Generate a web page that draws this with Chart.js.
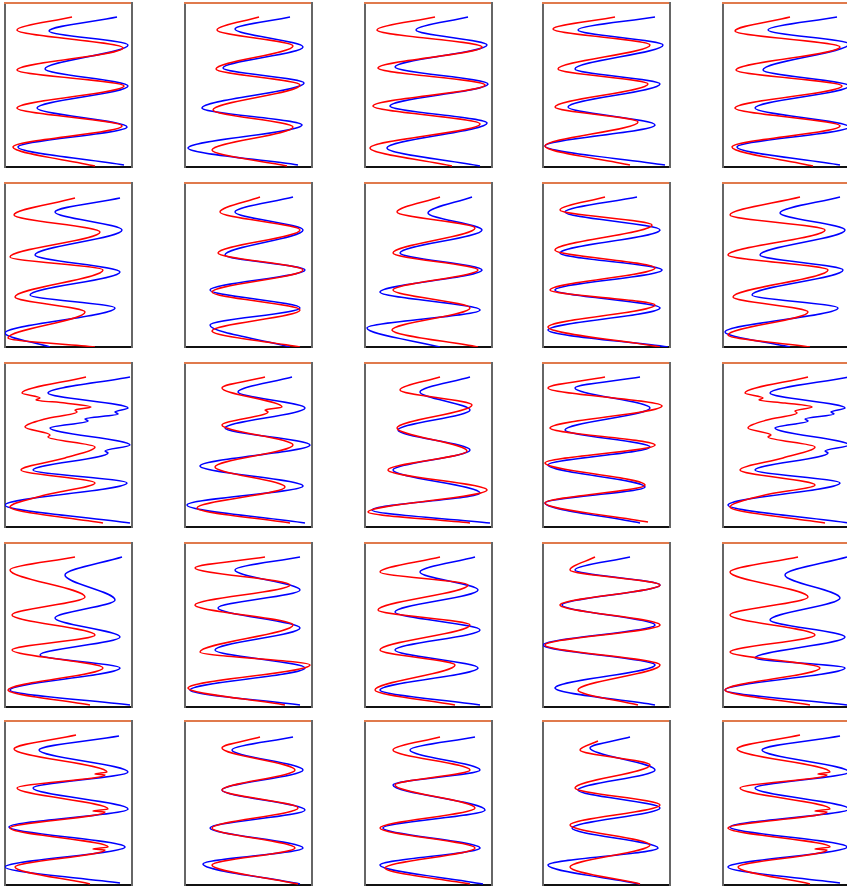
<!DOCTYPE html>
<html>
<head>
<meta charset="utf-8">
<title>Traces</title>
<script src="https://cdn.jsdelivr.net/npm/chart.js@4.4.1/dist/chart.umd.min.js"></script>
<style>
  html, body { margin: 0; padding: 0; background: #fff; overflow: hidden; }
  #grid { position: relative; width: 847px; height: 891px; }
  .panel { position: absolute; }
</style>
</head>
<body>
<div id="grid"></div>
<script>
// [amplitude, depth] pairs per panel, row by row (depth grows downward)
const redTraces = [
  [[67,14],[12,27],[118,45],[12,67],[119,83],[12,105],[117,123],[8,144],[90,163]],
  [[74,14],[32,27],[108,43],[31,66],[115,82],[28,107],[108,124],[27,147],[102,163]],
  [[70,14],[12,27],[117,44],[13,65],[120,82],[8,103],[115,121],[5,145],[87,163]],
  [[72,14],[10,26],[107,42],[15,66],[105,81],[12,104],[95,119],[2,143],[87,162]],
  [[67,14],[12,28],[117,44],[13,67],[119,83],[12,105],[117,123],[9,144],[90,163]],

  [[70,15],[9,32],[95,49],[5,74],[98,87],[10,114],[80,129],[3,155],[90,164]],
  [[75,14],[35,29],[115,47],[33,70],[118,87],[27,109],[115,127],[27,148],[115,164]],
  [[75,14],[32,29],[110,45],[28,70],[113,87],[28,107],[105,125],[27,147],[113,164]],
  [[62,14],[17,27],[109,42],[12,67],[112,85],[7,107],[112,122],[5,144],[117,164]],
  [[77,14],[7,32],[102,47],[5,72],[105,87],[10,114],[85,129],[5,152],[87,164]],

  [[81,14],[17,30],[35,35],[31,37],[60,40],[86,44],[70,47],[72,49],[40,56],[20,64],[45,72],[43,74],[90,84],[60,95],[16,107],[90,120],[40,132],[5,144],[98,160]],
  [[80,14],[37,25],[97,44],[80,47],[83,49],[37,62],[108,82],[30,104],[100,124],[12,145],[105,160]],
  [[75,14],[35,27],[107,42],[32,65],[102,88],[23,107],[122,127],[3,149],[105,160]],
  [[62,14],[5,25],[119,43],[7,65],[112,82],[2,100],[102,122],[2,140],[105,159]],
  [[85,14],[22,30],[40,35],[36,37],[62,40],[89,44],[72,48],[74,50],[44,57],[25,65],[48,72],[45,74],[92,84],[60,95],[17,107],[92,122],[42,132],[7,144],[102,160]],

  [[70,14],[5,27],[80,54],[7,72],[90,92],[7,107],[98,125],[3,147],[85,162]],
  [[80,14],[10,25],[105,42],[10,62],[108,82],[15,109],[125,122],[3,145],[100,162]],
  [[75,14],[15,29],[103,42],[13,67],[105,82],[15,107],[90,122],[10,147],[90,162]],
  [[52,14],[27,27],[117,42],[17,62],[117,82],[2,102],[117,122],[35,147],[95,162]],
  [[75,14],[7,29],[85,54],[7,72],[92,92],[7,109],[97,125],[2,147],[87,162]],

  [[71,14],[9,28],[102,51],[90,53],[100,54],[12,67],[103,88],[88,90],[100,91],[5,107],[103,126],[88,128],[100,129],[10,146],[85,163]],
  [[75,16],[37,27],[110,49],[37,69],[113,87],[27,107],[110,127],[27,144],[113,163]],
  [[75,16],[28,29],[105,49],[30,64],[110,87],[15,107],[110,127],[20,147],[105,163]],
  [[55,20],[37,29],[107,44],[32,67],[117,84],[27,104],[107,124],[27,146],[97,163]],
  [[77,14],[14,28],[107,51],[95,53],[104,54],[17,67],[107,88],[92,90],[104,91],[5,107],[107,126],[92,128],[104,129],[15,146],[87,163]]
];

const blueTraces = [
  [[112,14],[44,28],[123,42],[40,66],[123,83],[32,105],[122,124],[13,144],[119,162]],
  [[105,14],[50,26],[118,44],[38,65],[119,80],[17,105],[117,122],[3,145],[113,162]],
  [[103,14],[51,27],[122,42],[30,64],[123,81],[25,103],[122,120],[22,145],[115,163]],
  [[112,14],[35,27],[120,42],[32,66],[117,81],[25,104],[112,122],[2,143],[122,162]],
  [[114,14],[45,27],[126,41],[40,67],[126,83],[32,105],[126,124],[14,144],[117,162]],

  [[115,15],[50,29],[117,47],[30,72],[115,89],[25,112],[110,125],[0,150],[45,164]],
  [[108,14],[50,29],[118,47],[40,72],[120,87],[25,107],[115,125],[25,142],[105,164]],
  [[107,14],[63,30],[117,47],[35,70],[117,87],[15,109],[115,127],[2,145],[75,164]],
  [[94,14],[22,29],[117,47],[17,70],[119,87],[12,107],[117,125],[5,147],[125,164]],
  [[117,14],[57,30],[122,47],[37,72],[120,87],[29,112],[115,125],[2,149],[67,164]],

  [[125,14],[43,30],[123,45],[110,49],[113,51],[80,56],[83,58],[45,65],[125,82],[100,88],[103,90],[28,107],[122,120],[0,142],[125,160]],
  [[107,14],[53,29],[120,45],[40,65],[125,82],[15,103],[118,123],[2,142],[120,160]],
  [[105,14],[55,29],[105,47],[33,67],[105,87],[28,107],[115,130],[7,147],[125,160]],
  [[97,14],[32,25],[107,45],[22,67],[107,84],[5,102],[102,124],[2,140],[97,160]],
  [[126,14],[47,30],[122,45],[108,49],[111,51],[82,56],[85,58],[52,65],[126,82],[102,88],[105,90],[32,107],[117,120],[5,142],[126,160]],

  [[117,14],[60,32],[110,57],[50,75],[115,94],[35,112],[115,125],[5,147],[125,162]],
  [[115,14],[50,27],[115,47],[33,65],[115,85],[30,107],[120,125],[5,147],[115,162]],
  [[110,14],[55,29],[113,47],[30,69],[115,87],[30,107],[113,125],[15,147],[115,162]],
  [[87,14],[32,27],[117,42],[19,62],[112,82],[0,102],[112,122],[12,145],[112,162]],
  [[124,14],[62,32],[117,55],[47,77],[122,94],[32,115],[122,125],[2,147],[124,162]],

  [[114,15],[34,29],[123,51],[28,67],[123,88],[4,106],[120,126],[0,146],[115,162]],
  [[108,16],[47,29],[118,49],[37,69],[120,89],[25,107],[118,127],[18,143],[115,163]],
  [[110,16],[45,29],[115,49],[28,64],[120,89],[18,107],[115,127],[15,144],[118,163]],
  [[87,16],[47,27],[112,49],[35,69],[117,87],[29,107],[115,127],[5,144],[97,163]],
  [[117,15],[39,29],[126,51],[32,67],[126,88],[7,106],[124,126],[5,146],[117,162]]
];

const AMP_MAX = 127;
const DEPTH_MAX = 164;

// panel placement
const colLeft = [5, 185, 365, 543, 723];
const rowTop = [3, 183, 363, 543, 721];
const PAD = 2;

const grid = document.getElementById('grid');

function hiddenAxis(position, color, extra) {
  return Object.assign({
    type: 'linear',
    position: position,
    ticks: { display: false },
    grid: { display: false, drawTicks: false },
    border: { display: true, color: color, width: 2 }
  }, extra || {});
}

function toPoints(trace) {
  return trace.map(p => ({ x: p[0], y: p[1] }));
}

for (let i = 0; i < 25; i++) {
  const row = Math.floor(i / 5);
  const col = i % 5;

  const box = document.createElement('div');
  box.className = 'panel';
  box.style.left = (colLeft[col] - PAD) + 'px';
  box.style.top = (rowTop[row] - PAD) + 'px';
  const canvas = document.createElement('canvas');
  canvas.width = AMP_MAX + 2 * PAD;
  canvas.height = DEPTH_MAX + 2 * PAD;
  box.appendChild(canvas);
  grid.appendChild(box);

  new Chart(canvas.getContext('2d'), {
    type: 'line',
    data: {
      datasets: [
        {
          data: toPoints(redTraces[i]),
          borderColor: '#ff0000',
          borderWidth: 1.5,
          pointRadius: 0,
          cubicInterpolationMode: 'monotone',
          fill: false
        },
        {
          data: toPoints(blueTraces[i]),
          borderColor: '#0000ff',
          borderWidth: 1.5,
          pointRadius: 0,
          cubicInterpolationMode: 'monotone',
          fill: false
        }
      ]
    },
    options: {
      indexAxis: 'y',
      responsive: false,
      animation: false,
      layout: { padding: PAD },
      plugins: { legend: { display: false }, tooltip: { enabled: false } },
      scales: {
        x: hiddenAxis('bottom', '#111111', { min: 0, max: AMP_MAX }),
        y: hiddenAxis('left', '#666666', { min: 0, max: DEPTH_MAX, reverse: true }),
        xTop: hiddenAxis('top', '#e07a4c', { min: 0, max: 1 }),
        yRight: hiddenAxis('right', '#666666', { min: 0, max: 1 })
      }
    }
  });
}
</script>
</body>
</html>
